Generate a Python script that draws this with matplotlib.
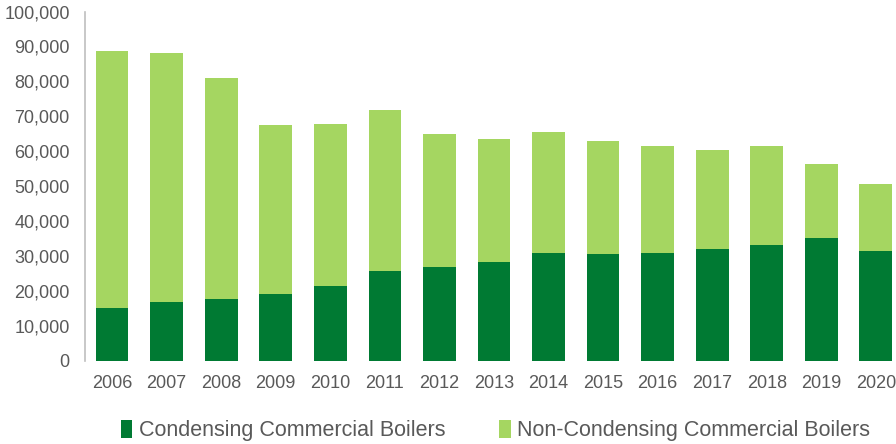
import matplotlib.pyplot as plt
from matplotlib.ticker import FuncFormatter

years = [str(y) for y in range(2006, 2021)]
condensing = [15100, 17000, 17700, 19300, 21500, 25800, 27000, 28400,
              30900, 30600, 30900, 32000, 33200, 35200, 31400]
totals = [88800, 88100, 81100, 67500, 67700, 71800, 65000, 63500,
          65600, 62900, 61500, 60300, 61500, 56400, 50600]
non_condensing = [t - c for t, c in zip(totals, condensing)]

plt.rcParams['font.family'] = ['Liberation Sans', 'DejaVu Sans']

fig = plt.figure(figsize=(8.96, 4.44), dpi=100)
ax = fig.add_axes([0.095, 0.187, 0.905, 0.787])

x = range(len(years))
ax.bar(x, condensing, width=0.6, color='#007A33', label='Condensing Commercial Boilers')
ax.bar(x, non_condensing, width=0.6, bottom=condensing, color='#A5D661',
       label='Non-Condensing Commercial Boilers')

ax.set_ylim(0, 100000)
ax.set_xlim(-0.495, 14.37)
ax.set_yticks(range(0, 100001, 10000))
ax.yaxis.set_major_formatter(FuncFormatter(lambda v, p: f'{int(v):,}'))
ax.set_xticks(list(x))
ax.set_xticklabels(years)
ax.tick_params(length=0, labelsize=13, colors='#595959')
ax.tick_params(axis='x', pad=10)
ax.tick_params(axis='y', pad=11)

for s in ['top', 'right', 'bottom']:
    ax.spines[s].set_visible(False)
ax.spines['left'].set_color('#BFBFBF')
ax.spines['left'].set_linewidth(1.2)

leg = fig.legend(loc='center', bbox_to_anchor=(0.553, 0.03), ncol=2, frameon=False,
                 fontsize=15.5, handlelength=0.55, handleheight=0.9,
                 handletextpad=0.3, columnspacing=2.5)
for t in leg.get_texts():
    t.set_color('#595959')

fig.savefig('out.png', dpi=100)
